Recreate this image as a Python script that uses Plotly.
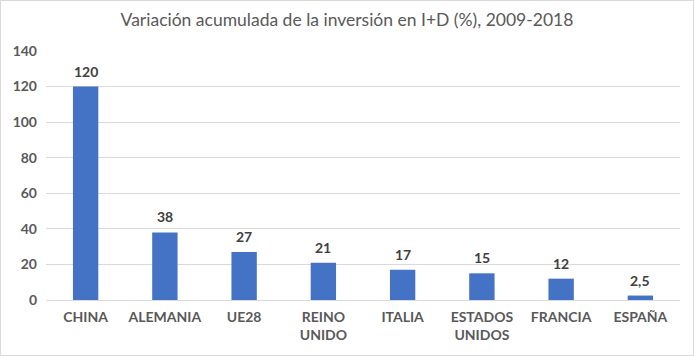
import plotly.graph_objects as go

categories = ["CHINA", "ALEMANIA", "UE28", "REINO<br>UNIDO", "ITALIA", "ESTADOS<br>UNIDOS", "FRANCIA", "ESPAÑA"]
values = [120, 38, 27, 21, 17, 15, 12, 2.5]
labels = ["120", "38", "27", "21", "17", "15", "12", "2,5"]
y_ticks = [0, 20, 40, 60, 80, 100, 120, 140]

FONT = "Lato, Liberation Sans, sans-serif"

fig = go.Figure(go.Bar(
    x=categories, y=values,
    marker=dict(color="#4472C4", line=dict(width=0)),
    hoverinfo="x+y",
))

for c, v, t in zip(categories, values, labels):
    fig.add_annotation(x=c, y=v, text=f"<b>{t}</b>", showarrow=False,
                       yanchor="bottom", yshift=5,
                       font=dict(family=FONT, size=14, color="#404040"))

W, H = 694, 356
L, R, T, B = 46, 14, 51, 56
pw, ph = W - L - R, H - T - B

fig.update_layout(
    width=W, height=H,
    margin=dict(l=L, r=R, t=T, b=B),
    paper_bgcolor="white", plot_bgcolor="white",
    bargap=0.68,
    showlegend=False,
    title=dict(text="Variación acumulada de la inversión en I+D (%), 2009-2018",
               x=0.5, xanchor="center", y=1 - 20 / H, yanchor="middle",
               font=dict(family=FONT, size=17.5, color="#595959")),
    xaxis=dict(tickfont=dict(family=FONT, size=14, color="#595959"),
               tickvals=categories,
               ticktext=[f"<b>{c}</b>" for c in categories],
               showgrid=False, showline=False, ticks="", automargin=False,
               ticklabelstandoff=7),
    yaxis=dict(range=[0, 140], tickvals=y_ticks,
               ticktext=[f"<b>{v}</b>" for v in y_ticks],
               tickfont=dict(family=FONT, size=14, color="#595959"),
               showgrid=True, gridcolor="#D9D9D9", gridwidth=1,
               zeroline=True, zerolinecolor="#D9D9D9", zerolinewidth=1,
               ticks="", ticklen=0, showline=False, automargin=False,
               ticklabelstandoff=8),
    shapes=[dict(type="rect", xref="paper", yref="paper",
                 x0=-(L - 0.5) / pw, x1=1 + (R - 0.5) / pw,
                 y0=-(B - 0.5) / ph, y1=1 + (T - 0.5) / ph,
                 line=dict(color="#D9D9D9", width=1), fillcolor="rgba(0,0,0,0)",
                 layer="below")],
)

fig.write_html("out.html", config={"displayModeBar": False},
               post_script="document.body.style.margin='0';")
